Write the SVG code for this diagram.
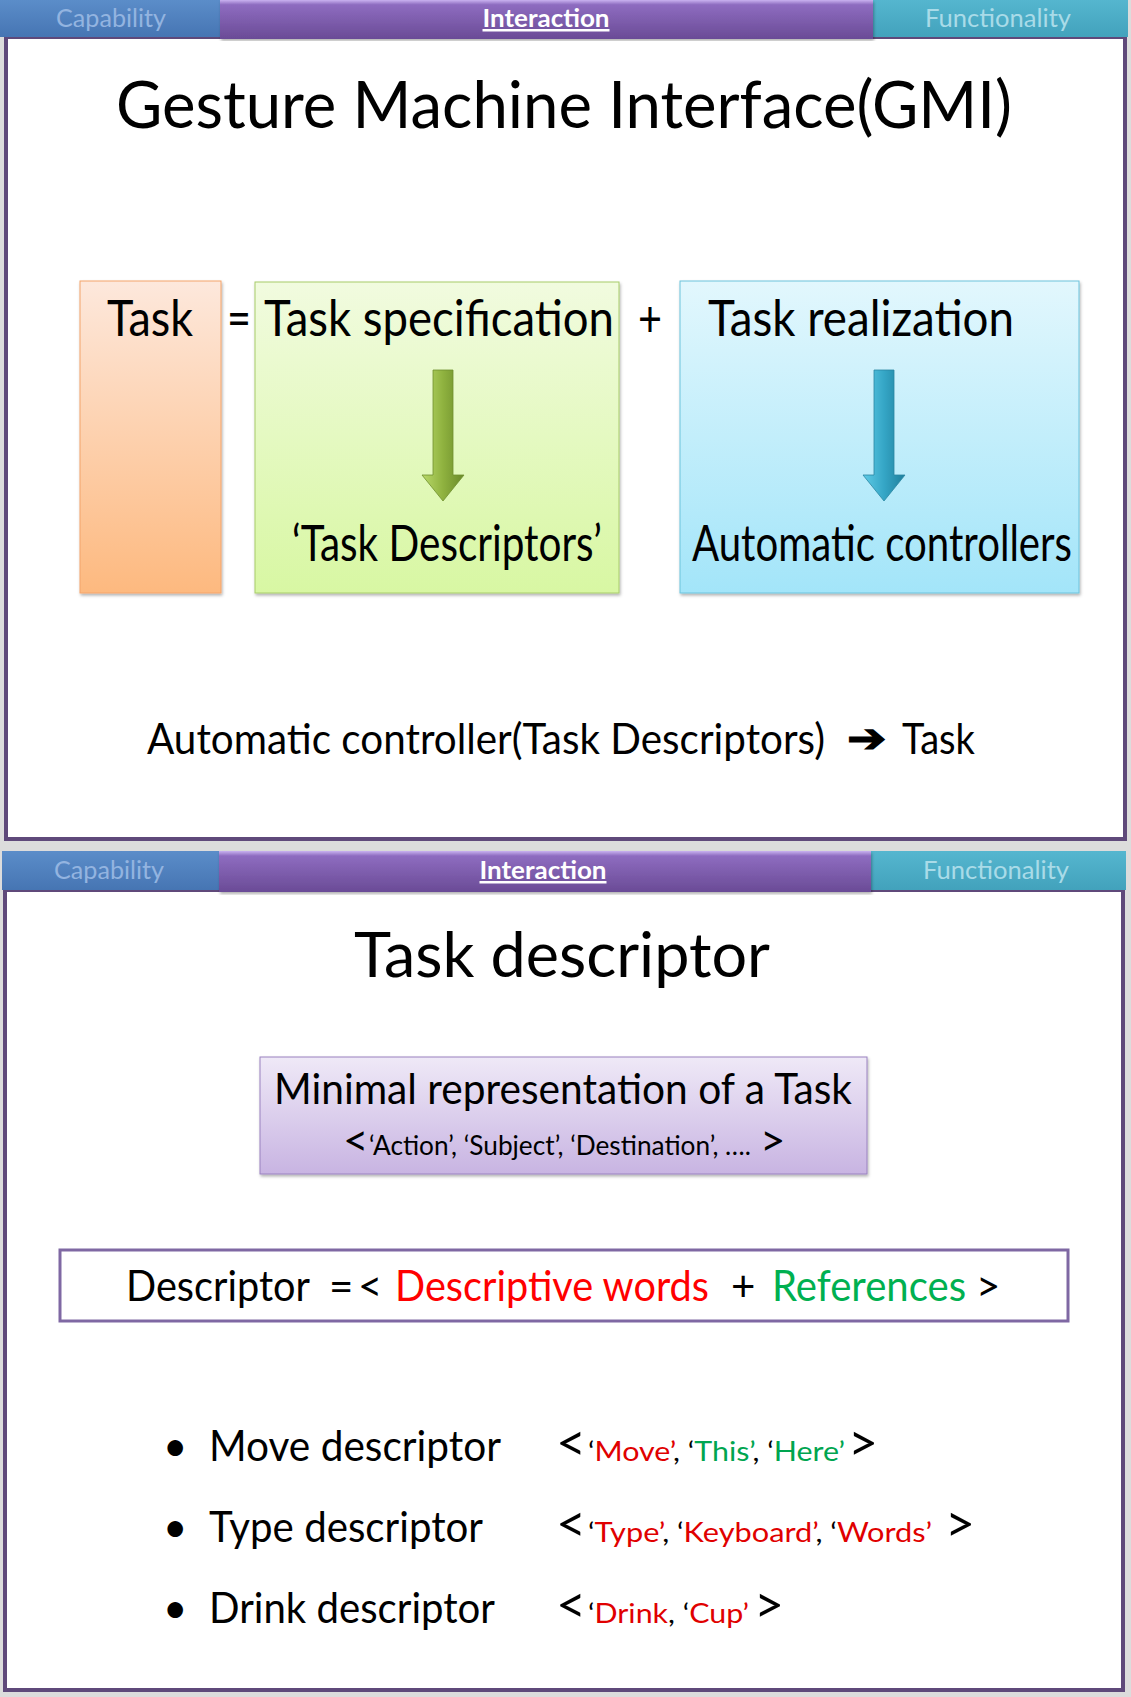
<svg xmlns="http://www.w3.org/2000/svg" width="1131" height="1697" viewBox="0 0 1131 1697">
<defs>
<linearGradient id="gCap" x1="0" y1="0" x2="0" y2="1"><stop offset="0" stop-color="#5b8dc9"/><stop offset="1" stop-color="#4675b3"/></linearGradient>
<linearGradient id="gInt" x1="0" y1="0" x2="0" y2="1"><stop offset="0" stop-color="#c9b2f0"/><stop offset="0.12" stop-color="#8e6cc0"/><stop offset="1" stop-color="#6a4b96"/></linearGradient>
<linearGradient id="gFun" x1="0" y1="0" x2="0" y2="1"><stop offset="0" stop-color="#55b6cf"/><stop offset="1" stop-color="#42a2bc"/></linearGradient>
<linearGradient id="gOrange" x1="0" y1="0" x2="0" y2="1"><stop offset="0" stop-color="#fde8dc"/><stop offset="1" stop-color="#fdb97f"/></linearGradient>
<linearGradient id="gGreen" x1="0" y1="0" x2="0" y2="1"><stop offset="0" stop-color="#f1fbdf"/><stop offset="1" stop-color="#d8f7a3"/></linearGradient>
<linearGradient id="gBlue" x1="0" y1="0" x2="0" y2="1"><stop offset="0" stop-color="#e2f7fd"/><stop offset="1" stop-color="#a3e5f9"/></linearGradient>
<linearGradient id="gPurple" x1="0" y1="0" x2="0" y2="1"><stop offset="0" stop-color="#efe9f7"/><stop offset="1" stop-color="#c8b4e2"/></linearGradient>
<linearGradient id="gArrG" x1="0" y1="0" x2="1" y2="0"><stop offset="0" stop-color="#b9d96a"/><stop offset="0.5" stop-color="#8fb23f"/><stop offset="1" stop-color="#6a8a2a"/></linearGradient>
<linearGradient id="gArrB" x1="0" y1="0" x2="1" y2="0"><stop offset="0" stop-color="#5fcbe6"/><stop offset="0.5" stop-color="#35a6c6"/><stop offset="1" stop-color="#1f7f9c"/></linearGradient>
<filter id="sh" x="-5%" y="-5%" width="110%" height="110%"><feDropShadow dx="1" dy="2" stdDeviation="1.5" flood-color="#000" flood-opacity="0.3"/></filter>
</defs>
<style>
text{font-family:Lato,"Open Sans","Liberation Sans",sans-serif;fill:#000}
.tab{font-size:25px;text-anchor:middle}
.tabdim1{fill:#93b4e0}
.tabdim2{fill:#a9dbe8}
.tabon{fill:#fff;font-weight:bold;text-decoration:underline}
.frame{fill:#fff;stroke:#5f497a;stroke-width:4}
.big{font-size:50px}
.mid{font-size:42px}
.brk{font-size:52px}
.sm{font-size:27px}
.red{fill:#e00000}
.rd{fill:#ff0000}
.grn{fill:#00a550}
</style>
<rect width="1131" height="1697" fill="#dcdcdc"/>

<!-- Panel 1 -->
<g id="panel1">
<rect class="frame" x="6" y="37" width="1119" height="802"/>
<g id="tabs1">
<rect x="0" y="0" width="222" height="37" fill="url(#gCap)"/>
<rect x="872" y="0" width="256" height="37" fill="url(#gFun)"/>
<rect x="220" y="0" width="653" height="39" fill="url(#gInt)" filter="url(#sh)"/>
<text class="tab tabdim1" x="111" y="27" textLength="110" lengthAdjust="spacingAndGlyphs">Capability</text>
<text class="tab tabon" x="546" y="27" textLength="127" lengthAdjust="spacingAndGlyphs">Interaction</text>
<text class="tab tabdim2" x="998" y="27" textLength="146" lengthAdjust="spacingAndGlyphs">Functionality</text>
</g>
<text x="564" y="128" font-size="65" text-anchor="middle" textLength="896" lengthAdjust="spacingAndGlyphs">Gesture Machine Interface(GMI)</text>

<g id="task">
<rect x="80" y="281" width="141" height="312" fill="url(#gOrange)" stroke="#f4a46a" stroke-width="1" filter="url(#sh)"/>
<text class="big" x="107" y="336" textLength="86" lengthAdjust="spacingAndGlyphs">Task</text>
</g>
<text class="big" x="227" y="336" textLength="24" lengthAdjust="spacingAndGlyphs">=</text>
<g id="spec">
<rect x="255" y="282" width="364" height="311" fill="url(#gGreen)" stroke="#a8cc6a" stroke-width="1" filter="url(#sh)"/>
<text class="big" x="264" y="336" textLength="350" lengthAdjust="spacingAndGlyphs">Task specification</text>
<path d="M433,370 H453 V475 H464 L443,501 L422,475 H433 Z" fill="url(#gArrG)" stroke="#6f8f2e" stroke-width="0.8"/>
<text class="big" x="292" y="561" textLength="310" lengthAdjust="spacingAndGlyphs">‘Task Descriptors’</text>
</g>
<text class="big" x="638" y="336" textLength="24" lengthAdjust="spacingAndGlyphs">+</text>
<g id="real">
<rect x="680" y="281" width="399" height="312" fill="url(#gBlue)" stroke="#6cc3dc" stroke-width="1" filter="url(#sh)"/>
<text class="big" x="708" y="336" textLength="306" lengthAdjust="spacingAndGlyphs">Task realization</text>
<path d="M874,370 H894 V475 H905 L884,501 L863,475 H874 Z" fill="url(#gArrB)" stroke="#2a86a2" stroke-width="0.8"/>
<text class="big" x="692" y="561" textLength="380" lengthAdjust="spacingAndGlyphs">Automatic controllers</text>
</g>
<text class="mid" x="147" y="754" textLength="678" lengthAdjust="spacingAndGlyphs">Automatic controller(Task Descriptors)</text>
<text x="847" y="752" font-size="40" font-weight="bold" font-family="DejaVu Sans, sans-serif" textLength="40" lengthAdjust="spacingAndGlyphs">➔</text>
<text class="mid" x="902" y="754" textLength="73" lengthAdjust="spacingAndGlyphs">Task</text>
</g>

<!-- Panel 2 -->
<g id="panel2">
<rect class="frame" x="5" y="890" width="1118" height="800"/>
<g id="tabs2">
<rect x="2" y="851" width="219" height="39" fill="url(#gCap)"/>
<rect x="870" y="851" width="256" height="39" fill="url(#gFun)"/>
<rect x="219" y="851" width="652" height="41" fill="url(#gInt)" filter="url(#sh)"/>
<text class="tab tabdim1" x="109" y="879" textLength="110" lengthAdjust="spacingAndGlyphs">Capability</text>
<text class="tab tabon" x="543" y="879" textLength="127" lengthAdjust="spacingAndGlyphs">Interaction</text>
<text class="tab tabdim2" x="996" y="879" textLength="146" lengthAdjust="spacingAndGlyphs">Functionality</text>
</g>
<text x="562" y="977" font-size="62" text-anchor="middle" textLength="416" lengthAdjust="spacingAndGlyphs">Task descriptor</text>

<g id="minimal">
<rect x="260" y="1057" width="607" height="117" fill="url(#gPurple)" stroke="#9a82c0" stroke-width="1" filter="url(#sh)"/>
<text class="mid" x="274" y="1104" textLength="578" lengthAdjust="spacingAndGlyphs">Minimal representation of a Task</text>
<text x="343" y="1156" font-size="44">&lt;</text>
<text x="369" y="1155" font-size="26" textLength="382" lengthAdjust="spacingAndGlyphs">‘Action’, ‘Subject’, ‘Destination’, …. </text>
<text x="760" y="1156" font-size="44">&gt;</text>
</g>

<g id="descriptor">
<rect x="60" y="1250" width="1008" height="71" fill="#fff" stroke="#7f68a3" stroke-width="3"/>
<text class="mid" x="126" y="1301" textLength="184" lengthAdjust="spacingAndGlyphs">Descriptor</text>
<text class="mid" x="329" y="1301">=</text>
<text class="mid" x="358" y="1301">&lt;</text>
<text class="mid rd" x="395" y="1301" textLength="314" lengthAdjust="spacingAndGlyphs">Descriptive words</text>
<text class="mid" x="731" y="1301">+</text>
<text class="mid" x="772" y="1301" textLength="194" lengthAdjust="spacingAndGlyphs" style="fill:#00b050">References</text>
<text class="mid" x="976" y="1301">&gt;</text>
</g>

<g id="move">
<text class="mid" x="163" y="1461">•</text>
<text class="mid" x="209" y="1461" textLength="292" lengthAdjust="spacingAndGlyphs">Move descriptor</text>
<text class="brk" x="556" y="1461">&lt;</text>
<text class="sm" x="588" y="1461" textLength="257" lengthAdjust="spacingAndGlyphs">‘<tspan class="red">Move’</tspan>, ‘<tspan class="grn">This’</tspan>,  ‘<tspan class="grn">Here’</tspan></text>
<text class="brk" x="848" y="1461">&gt;</text>
</g>
<g id="type">
<text class="mid" x="163" y="1542">•</text>
<text class="mid" x="209" y="1542" textLength="274" lengthAdjust="spacingAndGlyphs">Type descriptor</text>
<text class="brk" x="556" y="1542">&lt;</text>
<text class="sm" x="588" y="1542" textLength="344" lengthAdjust="spacingAndGlyphs">‘<tspan class="red">Type’</tspan>,  ‘<tspan class="red">Keyboard’</tspan>,  ‘<tspan class="red">Words’</tspan></text>
<text class="brk" x="945" y="1542">&gt;</text>
</g>
<g id="drink">
<text class="mid" x="163" y="1623">•</text>
<text class="mid" x="209" y="1623" textLength="286" lengthAdjust="spacingAndGlyphs">Drink descriptor</text>
<text class="brk" x="556" y="1623">&lt;</text>
<text class="sm" x="588" y="1623" textLength="161" lengthAdjust="spacingAndGlyphs">‘<tspan class="red">Drink</tspan>,  ‘<tspan class="red">Cup’</tspan></text>
<text class="brk" x="754" y="1623">&gt;</text>
</g>
</g>
<g id="connectors"></g>
</svg>
